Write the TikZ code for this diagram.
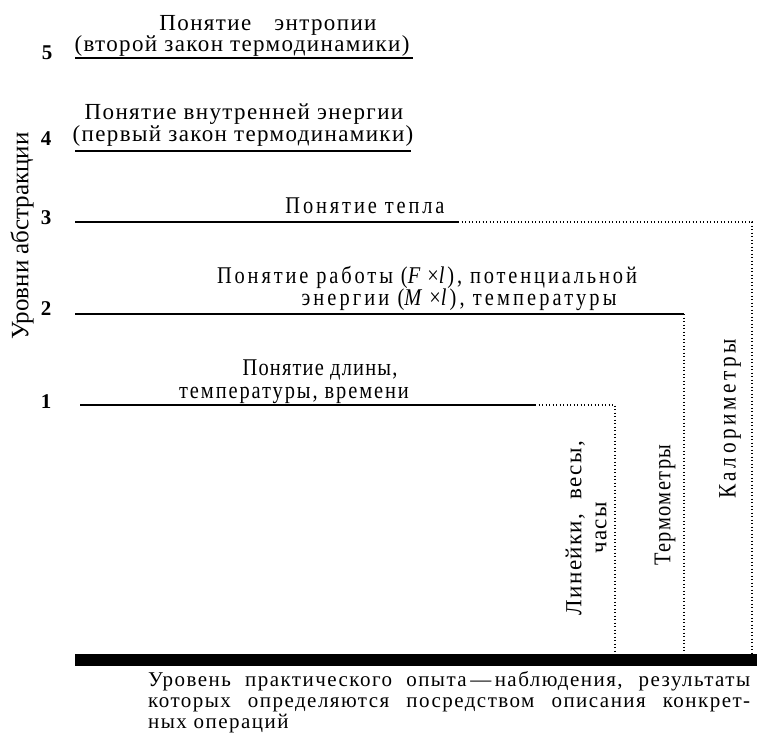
\documentclass[tikz,border=0pt]{standalone}
\usepackage{fontspec}
\setmainfont{Liberation Serif}
\newfontfamily\spaced[LetterSpace=6]{Liberation Serif}
\newfontfamily\narrow[FakeStretch=0.85]{Liberation Serif}
\newfontfamily\plainsp[LetterSpace=7]{Liberation Serif}
\begin{document}
\begin{tikzpicture}[x=1pt,y=-1pt,
  lvl/.style={line width=1.3pt},
  dots/.style={line width=1.4pt, dash pattern=on 1.4pt off 2.1pt},
  bar/.style={fill=black, draw=none},
  num/.style={font=\fontsize{21}{21}\selectfont\bfseries, inner sep=0pt},
  labsp/.style={font=\spaced\fontsize{23}{25}\selectfont, inner sep=0pt, anchor=base},
  labnr/.style={font=\narrow\fontsize{24}{26}\selectfont\addfontfeature{LetterSpace=#1}, inner sep=0pt, anchor=base},
  vlab/.style={rotate=90, inner sep=0pt, align=center},
  bottom/.style={font=\plainsp\fontsize{21}{21}\selectfont, inner sep=0pt, anchor=base west, align=left}
]
\useasboundingbox (0,0) rectangle (757,736);

% axis title
\node[rotate=90, inner sep=0pt, font=\fontsize{25}{25}\selectfont] (axis) at (22,236) {Уровни абстракции};

% level numbers
\node[num] (n5) at (47,53) {5};
\node[num] (n4) at (46,139) {4};
\node[num] (n3) at (46,218) {3};
\node[num] (n2) at (46,309) {2};
\node[num] (n1) at (46,402) {1};

% level 5
\coordinate (a5) at (75,58);
\coordinate (b5) at (413,58);
\draw[lvl] (a5) -- (b5);
\node[labsp] (t5a) at (268,30) {Понятие\hspace{16pt} энтропии};
\node[labsp] (t5b) at (242,51) {(второй закон термодинамики)};

% level 4
\coordinate (a4) at (75,151);
\coordinate (b4) at (411,151);
\draw[lvl] (a4) -- (b4);
\node[labsp] (t4a) at (244,119) {Понятие внутренней энергии};
\node[labsp] (t4b) at (243,141) {(первый закон термодинамики)};

% level 3
\coordinate (a3) at (75,222);
\coordinate (b3) at (458,222);
\coordinate (c3) at (752,222);
\coordinate (d3) at (752,654);
\draw[lvl] (a3) -- (b3);
\draw[dots] (b3) -- (c3) -- (d3);
\node[labnr=12] (t3) at (365,213) {Понятие тепла};

% level 2
\coordinate (a2) at (75,314);
\coordinate (b2) at (684,314);
\coordinate (d2) at (684,654);
\draw[lvl] (a2) -- (b2);
\draw[dots] (b2) -- (d2);
\node[labnr=12] (t2a) at (427,283) {Понятие работы (\textit{F}\,×\textit{l}), потенциальной};
\node[labnr=13] (t2b) at (459,305) {энергии (\textit{M}\,×\textit{l}), температуры};

% level 1
\coordinate (a1) at (80,405);
\coordinate (b1) at (535,405);
\coordinate (c1) at (615,405);
\coordinate (d1) at (615,654);
\draw[lvl] (a1) -- (b1);
\draw[dots] (b1) -- (c1) -- (d1);
\node[labnr=5] (t1a) at (320,375) {Понятие длины,};
\node[labnr=8] (t1b) at (294,398) {температуры, времени};

% instruments
\node[vlab, font=\spaced\fontsize{23}{25}\selectfont] (i1) at (586,528) {Линейки,\ \ весы,\\часы};
\node[vlab, font=\narrow\fontsize{24}{25}\selectfont\addfontfeature{LetterSpace=6}] (i2) at (665,505) {Термометры};
\node[vlab, font=\narrow\fontsize{25}{25}\selectfont\addfontfeature{LetterSpace=14}] (i3) at (730,419) {Калориметры};

% practical level
\path[bar] (75,654) rectangle (757,666);
\node[bottom] (p) at (148,728) {\makebox[602pt][s]{Уровень практического опыта\,—\,наблюдения, результаты}\\
  \makebox[602pt][s]{которых определяются посредством описания конкрет-}\\
  ных операций};
\end{tikzpicture}
\end{document}
